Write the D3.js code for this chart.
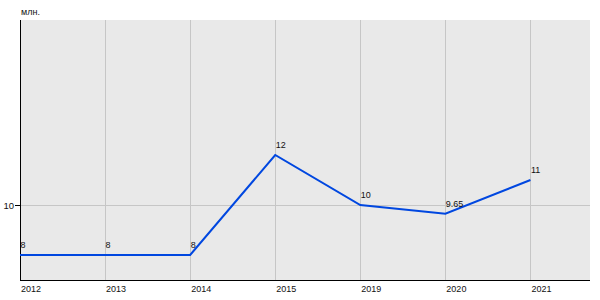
<!DOCTYPE html>
<html>
<head>
<meta charset="utf-8">
<script src="https://cdn.jsdelivr.net/npm/d3@7.9.0/dist/d3.min.js"></script>
<style>
  body { margin: 0; background: #fff; }
  text { font-family: "Liberation Sans", Arial, sans-serif; fill: #111; }
</style>
</head>
<body>
<svg width="600" height="300"></svg>
<script>
const years = ['2012', '2013', '2014', '2015', '2019', '2020', '2021'];
const values = [8, 8, 8, 12, 10, 9.65, 11];
const valueLabels = ['8', '8', '8', '12', '10', '9.65', '11'];
const yTicks = [10];
const unit = 'млн.';

const svg = d3.select('svg');
const plotLeft = 20, plotTop = 20, plotRight = 590, plotBottom = 280;

// x: category index, with room after the last year
const x = d3.scaleLinear().domain([0, 6.7]).range([plotLeft, plotRight]);
const y = d3.scaleLinear().domain([7, 17.4]).range([plotBottom, plotTop]);

svg.append('rect')
  .attr('x', plotLeft).attr('y', plotTop)
  .attr('width', plotRight - plotLeft).attr('height', plotBottom - plotTop)
  .attr('fill', '#e9e9e9');

// vertical grid
svg.selectAll('.vgrid')
  .data(years.slice(1))
  .enter().append('line')
  .attr('x1', (d, i) => Math.round(x(i + 1)) + 0.5)
  .attr('x2', (d, i) => Math.round(x(i + 1)) + 0.5)
  .attr('y1', plotTop).attr('y2', plotBottom)
  .attr('stroke', '#c6c6c6');

// horizontal grid + ticks
yTicks.forEach(t => {
  const yy = Math.round(y(t)) + 0.5;
  svg.append('line').attr('x1', plotLeft).attr('x2', plotRight)
    .attr('y1', yy).attr('y2', yy).attr('stroke', '#c6c6c6');
  svg.append('line').attr('x1', plotLeft - 5).attr('x2', plotLeft)
    .attr('y1', yy).attr('y2', yy).attr('stroke', '#000');
  svg.append('text').attr('x', 14).attr('y', yy + 3)
    .attr('text-anchor', 'end').attr('font-size', 9.5).text(t);
});

// axes
svg.append('line').attr('x1', plotLeft + 0.5).attr('x2', plotLeft + 0.5)
  .attr('y1', plotTop).attr('y2', plotBottom + 0.5).attr('stroke', '#000');
svg.append('line').attr('x1', plotLeft).attr('x2', plotRight)
  .attr('y1', plotBottom + 0.5).attr('y2', plotBottom + 0.5).attr('stroke', '#000');

// x labels
svg.selectAll('.xl')
  .data(years)
  .enter().append('text')
  .attr('x', (d, i) => x(i) + 1)
  .attr('y', 292)
  .attr('font-size', 9)
  .text(d => d);

svg.append('text').attr('x', 21).attr('y', 15)
  .attr('font-size', 9).text(unit);

// line
const line = d3.line()
  .x((d, i) => x(i))
  .y(d => y(d));

svg.append('path')
  .datum(values)
  .attr('d', line)
  .attr('fill', 'none')
  .attr('stroke', '#0047e0')
  .attr('stroke-width', 2);

// value labels
svg.selectAll('.vl')
  .data(values)
  .enter().append('text')
  .attr('x', (d, i) => x(i) + 0.5)
  .attr('y', d => y(d) - 7)
  .attr('font-size', 9)
  .text((d, i) => valueLabels[i]);
</script>
</body>
</html>
